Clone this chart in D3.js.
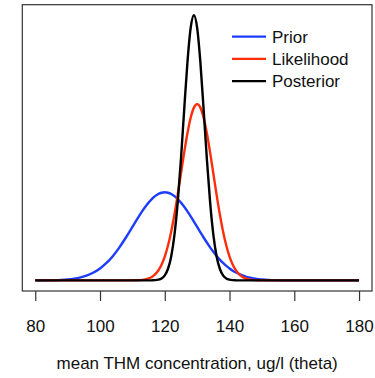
<!DOCTYPE html>
<html>
<head>
<meta charset="utf-8">
<script src="https://cdn.jsdelivr.net/npm/d3@7"></script>
<style>
  body { margin: 0; background: #fff; }
  text { font-family: "Liberation Sans", Arial, Helvetica, sans-serif; fill: #111; }
</style>
</head>
<body>
<div id="main"></div>
<script>
// theta grid (ug/l)
const theta = [
  80, 82, 84, 86, 88, 90, 92, 94, 96, 98, 100, 102, 104, 106, 108, 110,
  111, 112, 113, 114, 115, 116, 117, 118, 119, 120,
  121, 122, 123, 124, 125, 126, 127, 128, 129, 130,
  131, 132, 133, 134, 135, 136, 137, 138, 139, 140,
  141, 142, 143, 144, 145, 146, 147, 148, 149,
  150, 152, 154, 156, 158, 160, 162, 164, 166, 168, 170, 172, 174, 176, 178, 180
];

const prior = [
  0.00001, 0.00003, 0.00006, 0.00012, 0.00024, 0.00044, 0.00079, 0.00136, 0.00224, 0.00355, 0.00540, 0.00789, 0.01109, 0.01497, 0.01942, 0.02420,
  0.02661, 0.02897, 0.03123, 0.03332, 0.03521, 0.03683, 0.03814, 0.03910, 0.03969, 0.03989,
  0.03969, 0.03910, 0.03814, 0.03683, 0.03521, 0.03332, 0.03123, 0.02897, 0.02661, 0.02420,
  0.02179, 0.01942, 0.01714, 0.01497, 0.01295, 0.01109, 0.00940, 0.00789, 0.00656, 0.00540,
  0.00440, 0.00355, 0.00283, 0.00224, 0.00175, 0.00136, 0.00104, 0.00079, 0.00060,
  0.00044, 0.00024, 0.00012, 0.00006, 0.00003, 0.00001, 0, 0, 0, 0, 0, 0, 0, 0, 0, 0
];

const likelihood = [
  0, 0, 0, 0, 0, 0, 0, 0, 0, 0, 0, 0, 0, 0, 0, 0.00003,
  0.00006, 0.00012, 0.00025, 0.00048, 0.00089, 0.00158, 0.00271, 0.00448, 0.00709, 0.01080,
  0.01579, 0.02218, 0.02995, 0.03884, 0.04839, 0.05794, 0.06665, 0.07366, 0.07821, 0.07979,
  0.07821, 0.07366, 0.06665, 0.05794, 0.04839, 0.03884, 0.02995, 0.02218, 0.01579, 0.01080,
  0.00709, 0.00448, 0.00271, 0.00158, 0.00089, 0.00048, 0.00025, 0.00012, 0.00006,
  0.00003, 0, 0, 0, 0, 0, 0, 0, 0, 0, 0, 0, 0, 0, 0, 0
];

const posterior = [
  0, 0, 0, 0, 0, 0, 0, 0, 0, 0, 0, 0, 0, 0, 0, 0,
  0, 0, 0, 0, 0, 0.00003, 0.00011, 0.00033, 0.00091, 0.00230,
  0.00527, 0.01097, 0.02069, 0.03540, 0.05494, 0.07733, 0.09871, 0.11428, 0.12000, 0.11428,
  0.09871, 0.07733, 0.05494, 0.03540, 0.02069, 0.01097, 0.00527, 0.00230, 0.00091, 0.00033,
  0.00011, 0.00003, 0, 0, 0, 0, 0, 0, 0,
  0, 0, 0, 0, 0, 0, 0, 0, 0, 0, 0, 0, 0, 0, 0, 0
];

const xTicks = [80, 100, 120, 140, 160, 180];
const seriesNames = ["Prior", "Likelihood", "Posterior"];
const seriesColors = ["#1c3cff", "#ff2d0a", "#000000"];
const xTitle = "mean THM concentration, ug/l (theta)";

const ctx = {
    width: 375,
    height: 378,
    box: {left: 22.3, right: 372, top: 4.7, bottom: 291}
};

function createViz() {
    const svg = d3.select("#main").append("svg")
        .attr("width", ctx.width)
        .attr("height", ctx.height);

    const b = ctx.box;
    // R style: 4% padding on both axes
    const x = d3.scaleLinear().domain([76, 184]).range([b.left, b.right]);
    const yMax = d3.max(posterior);
    const pad = yMax * 0.04;
    const y = d3.scaleLinear().domain([-pad, yMax + pad]).range([b.bottom, b.top]);

    const line = d3.line()
        .x(d => x(d[0]))
        .y(d => y(d[1]))
        .curve(d3.curveMonotoneX);

    const series = [prior, likelihood, posterior];
    series.forEach((vals, i) => {
        svg.append("path")
            .datum(theta.map((t, j) => [t, vals[j]]))
            .attr("fill", "none")
            .attr("stroke", seriesColors[i])
            .attr("stroke-width", 2.4)
            .attr("stroke-linejoin", "round")
            .attr("d", line);
    });

    // frame
    svg.append("rect")
        .attr("x", b.left)
        .attr("y", b.top)
        .attr("width", b.right - b.left)
        .attr("height", b.bottom - b.top)
        .attr("fill", "none")
        .attr("stroke", "#333")
        .attr("stroke-width", 1.2);

    // x axis
    const xAxis = d3.axisBottom(x).tickValues(xTicks).tickSize(10).tickPadding(19);
    const ax = svg.append("g")
        .attr("transform", `translate(0,${b.bottom})`)
        .call(xAxis);
    ax.select(".domain").remove();
    ax.selectAll(".tick line").attr("stroke", "#333").attr("stroke-width", 1.2);
    ax.selectAll(".tick text")
        .style("font-family", "'Liberation Sans', Arial, sans-serif")
        .style("font-size", "17px")
        .attr("fill", "#111");

    svg.append("text")
        .attr("x", (b.left + b.right) / 2)
        .attr("y", 369)
        .attr("text-anchor", "middle")
        .style("font-size", "17px")
        .text(xTitle);

    // legend
    const legend = svg.append("g");
    seriesNames.forEach((name, i) => {
        const ly = 36.7 + i * 22.2;
        legend.append("line")
            .attr("x1", 232).attr("x2", 266)
            .attr("y1", ly).attr("y2", ly)
            .attr("stroke", seriesColors[i])
            .attr("stroke-width", 2.2);
        legend.append("text")
            .attr("x", 272)
            .attr("y", ly)
            .attr("dy", "0.36em")
            .style("font-size", "17px")
            .text(name);
    });
}

createViz();
</script>
</body>
</html>
